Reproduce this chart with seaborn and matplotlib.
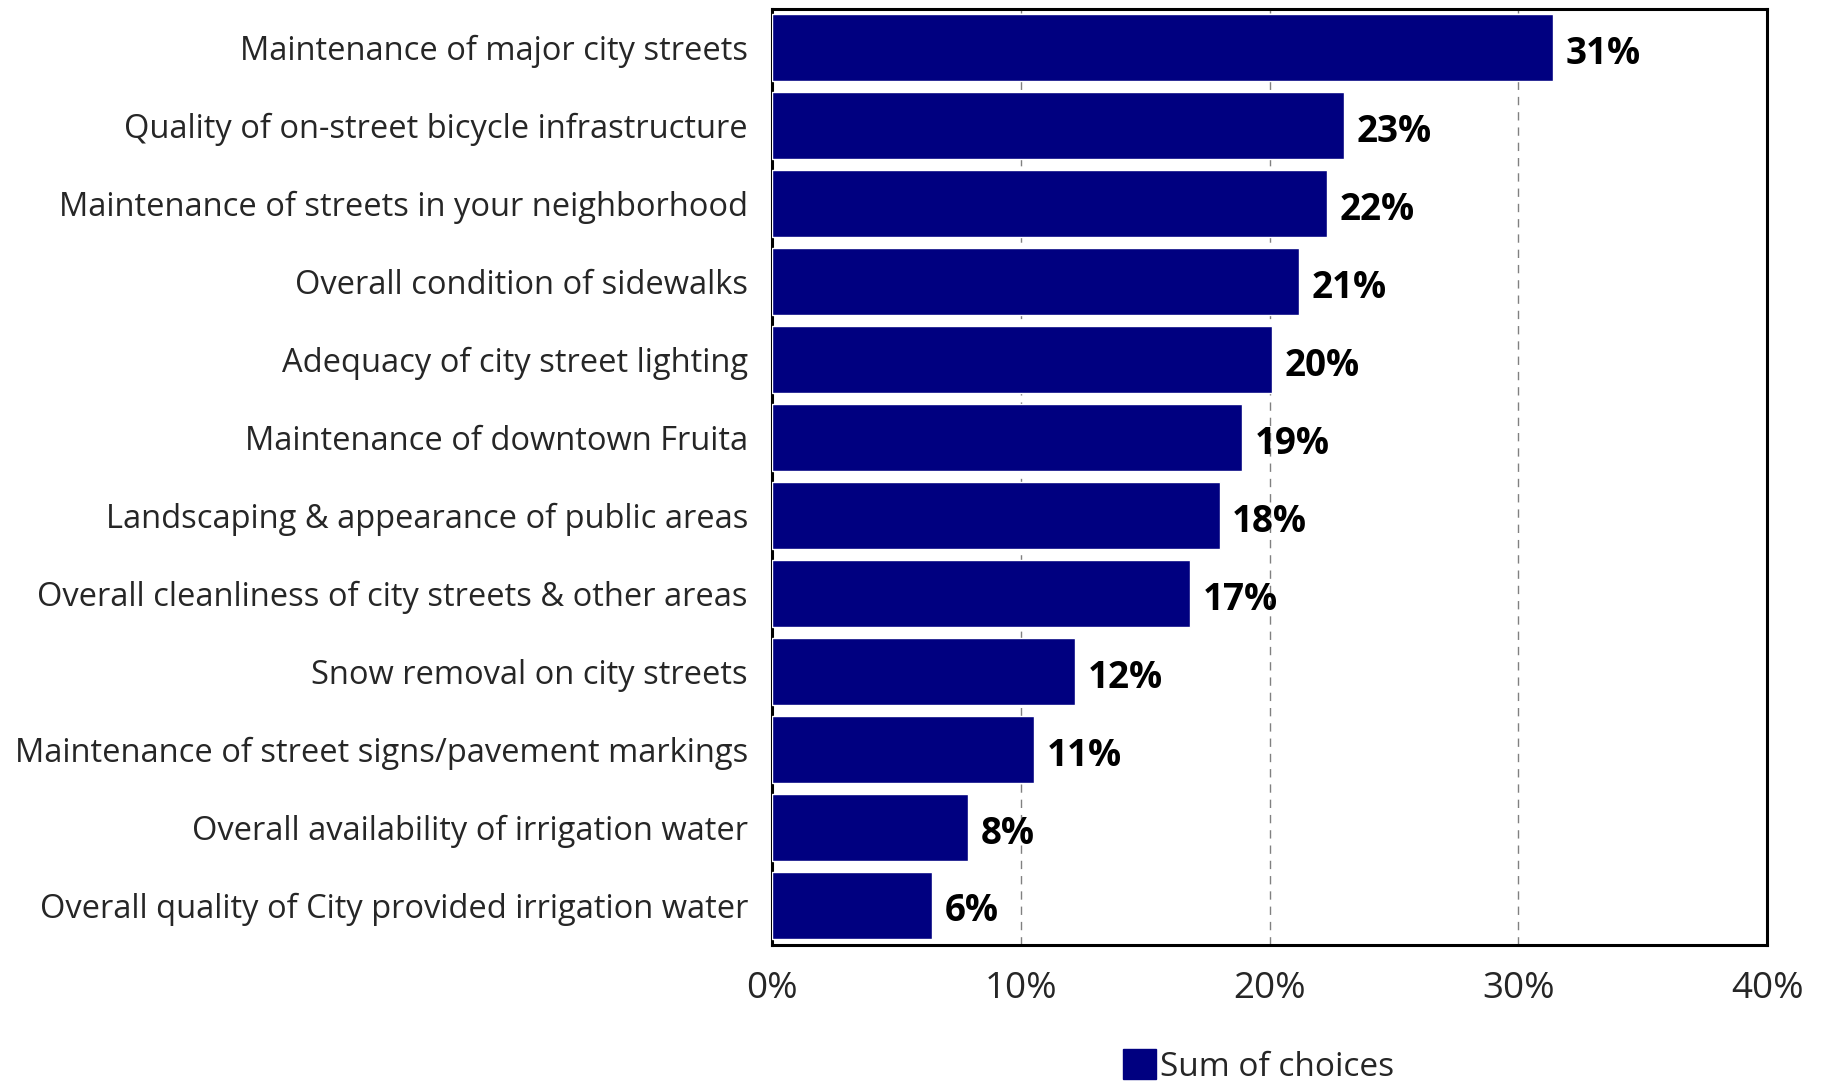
import matplotlib
matplotlib.use("Agg")
import matplotlib.pyplot as plt
import seaborn as sns
import pandas as pd
from matplotlib.patches import Patch
from matplotlib.ticker import FuncFormatter

categories = [
    "Maintenance of major city streets",
    "Quality of on-street bicycle infrastructure",
    "Maintenance of streets in your neighborhood",
    "Overall condition of sidewalks",
    "Adequacy of city street lighting",
    "Maintenance of downtown Fruita",
    "Landscaping & appearance of public areas",
    "Overall cleanliness of city streets & other areas",
    "Snow removal on city streets",
    "Maintenance of street signs/pavement markings",
    "Overall availability of irrigation water",
    "Overall quality of City provided irrigation water",
]
values = [31.4, 23.0, 22.3, 21.2, 20.1, 18.9, 18.0, 16.8, 12.2, 10.55, 7.9, 6.45]
series_name = "Sum of choices"
xticks = [0, 10, 20, 30, 40]

df = pd.DataFrame({"category": categories, "value": values})

sns.set_theme(style="white")
plt.rcParams["font.family"] = ["Open Sans", "DejaVu Sans"]

fig = plt.figure(figsize=(18.24, 10.87), dpi=100)
ax = fig.add_axes([0.423, 0.131, 0.546, 0.861])

navy = "#000080"
sns.barplot(data=df, x="value", y="category", orient="h", color=navy,
            width=0.86, saturation=1, ax=ax, zorder=3)

ax.set_xlim(0, 40)
ax.set_ylim(11.5, -0.5)
ax.set_xticks(xticks)
ax.xaxis.set_major_formatter(FuncFormatter(lambda v, p: f"{v:.0f}%"))
ax.set_xlabel("")
ax.set_ylabel("")
ax.tick_params(axis="x", length=0, labelsize=26.5, pad=19)
ax.tick_params(axis="y", length=0, labelsize=23.5, pad=17)
for lab in ax.get_yticklabels():
    lab.set_verticalalignment("center_baseline")
ax.xaxis.grid(True, linestyle=(0, (6, 5)), color="#808080", linewidth=1.0, zorder=0)
ax.set_axisbelow(True)
for s in ax.spines.values():
    s.set_visible(True)
    s.set_color("black")
    s.set_linewidth(2.2)

for patch, v in zip(ax.patches, values):
    y = patch.get_y() + patch.get_height() / 2
    ax.annotate(f"{v:.0f}%", xy=(patch.get_width(), y), xytext=(9, -1),
                textcoords="offset points", ha="left", va="center_baseline",
                fontsize=26.5, fontweight="bold", color="black")

handles = [Patch(facecolor=navy, edgecolor=navy, label=series_name)]
fig.legend(handles=handles, loc="center", bbox_to_anchor=(0.69, 0.019),
           frameon=False, fontsize=24, handlelength=1.0, handleheight=1.0,
           handletextpad=0.1, borderpad=0.1)

fig.savefig("out.png", dpi=100)
